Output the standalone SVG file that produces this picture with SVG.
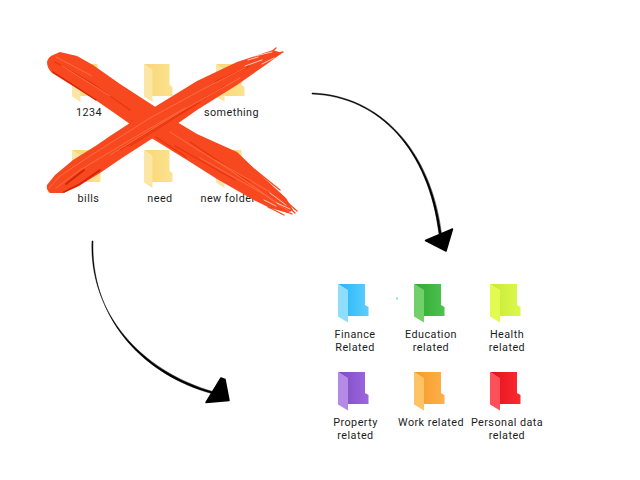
<svg xmlns="http://www.w3.org/2000/svg" xmlns:xlink="http://www.w3.org/1999/xlink" width="640" height="480" viewBox="0 0 640 480">
  <style>
    text { font-family: Roboto, "Liberation Sans", sans-serif; font-size: 10.800px; letter-spacing: 0.450px; fill: #1c1c1c; text-anchor: middle; }
    .link { fill: #000; stroke: #000; stroke-width: 0.5; }
    .head { fill: #000; stroke: #000; stroke-width: 1.5; stroke-linejoin: round; }
    .brush { fill: #f8481f; }
    .dark { fill: none; stroke: #e9360f; stroke-linecap: round; }
    .deep { fill: none; stroke: #d42407; stroke-linecap: round; }
    .light { fill: none; stroke: #fd6c42; stroke-linecap: round; stroke-width: 1; }
    .fray { fill: none; stroke: #f8481f; stroke-width: 1.3; stroke-linecap: round; }
    .gap { fill: none; stroke: #fff; stroke-width: 0.7; stroke-linecap: round; }
  </style>
  <defs>
    <linearGradient id="yBack" x1="0" x2="1"><stop offset="0" stop-color="#f8d677"/><stop offset="1" stop-color="#fce28f"/></linearGradient>
    <linearGradient id="bBack" x1="0" x2="1"><stop offset="0" stop-color="#1fb6fb"/><stop offset="1" stop-color="#5fcdfb"/></linearGradient>
    <linearGradient id="gBack" x1="0" x2="1"><stop offset="0" stop-color="#2fa934"/><stop offset="1" stop-color="#4fc24f"/></linearGradient>
    <linearGradient id="lBack" x1="0" x2="1"><stop offset="0" stop-color="#c6e83a"/><stop offset="1" stop-color="#dcf94a"/></linearGradient>
    <linearGradient id="pBack" x1="0" x2="1"><stop offset="0" stop-color="#7e4cc4"/><stop offset="1" stop-color="#9d66de"/></linearGradient>
    <linearGradient id="oBack" x1="0" x2="1"><stop offset="0" stop-color="#f79a28"/><stop offset="1" stop-color="#fdb04a"/></linearGradient>
    <linearGradient id="rBack" x1="0" x2="1"><stop offset="0" stop-color="#e4101c"/><stop offset="1" stop-color="#fb2a30"/></linearGradient>
    <path id="back" d="M0 0H27V21L30.500 23V32H9V6Z"/>
    <path id="flap" d="M0 0L10 6V38.500L0 32.500Z"/>
    <path id="yback" d="M0 0H25.500V21L28.500 23V32H8V6Z"/>
    <path id="yflap" d="M0 0L8.500 6V38L0 32.500Z"/>
  </defs>

  <g id="folder-1234"><use xlink:href="#yback" x="72" y="64" fill="url(#yBack)"/><use xlink:href="#yflap" x="72" y="64" fill="#fbe6a6"/><text x="89" y="116">1234</text></g>
  <g id="folder-blank"><use xlink:href="#yback" x="144" y="64" fill="url(#yBack)"/><use xlink:href="#yflap" x="144" y="64" fill="#fbe6a6"/></g>
  <g id="folder-something"><use xlink:href="#yback" x="216" y="64" fill="url(#yBack)"/><use xlink:href="#yflap" x="216" y="64" fill="#fbe6a6"/><text x="231.500" y="116">something</text></g>
  <g id="folder-bills"><use xlink:href="#yback" x="72" y="150" fill="url(#yBack)"/><use xlink:href="#yflap" x="72" y="150" fill="#fbe6a6"/><text x="88.500" y="202">bills</text></g>
  <g id="folder-need"><use xlink:href="#yback" x="144" y="150" fill="url(#yBack)"/><use xlink:href="#yflap" x="144" y="150" fill="#fbe6a6"/><text x="160" y="202">need</text></g>
  <g id="folder-new"><use xlink:href="#yback" x="216" y="150" fill="url(#yBack)"/><use xlink:href="#yflap" x="216" y="150" fill="#fbe6a6"/><text x="228" y="202">new folder</text></g>

  <!-- Painted cross over the old folders -->
  <g id="cross">
    <path class="brush" d="M47 62Q48 57 53 55L60 52L77 56L93 65L120 84L157 108L177 122L197 134L237 152L263 177L286 198L293 210L288 213L270 208L252 199L217 179L187 160L153 139L130 124L110 110L97 101L73 86L52 73Q47 68 47 62Z"/>
    <path class="deep" stroke-width="1.400" d="M53 72L73 85L96 100"/>
    <path class="dark" stroke-width="1.400" d="M55 62L90 82L130 110M175 146L235 180M190 142L250 182M132 121L186 157"/>
    <path class="light" d="M56 57L92 76M62 66L110 96M170 132L230 170L280 205M200 158L260 192L290 212M215 160L270 192"/>
    <path class="fray" d="M262 180L297 211M272 192L295 213M255 200L292 214M268 207L284 215M245 162L280 190"/>
    <path class="gap" d="M270 193L286 205M277 203L290 209M264 200L276 206"/>
    <path class="brush" d="M47 185L55 175L73 160L97 145L110 136L153 108L197 81L237 62L273 50L282 53L267 64L237 85L197 110L177 124L153 138L122 158L100 173L77 187L63 193L50 193Q46 190 47 185Z"/>
    <path class="deep" stroke-width="1.800" d="M64 192L80 184L100 170M66 184L84 170"/>
    <path class="dark" stroke-width="1.400" d="M120 150L165 122L225 86M130 146L200 102M215 82L250 66"/>
    <path class="light" d="M49 188L60 176L90 156L150 118L205 88L245 68M56 188L80 170L130 140L185 108M110 155L180 112L240 78"/>
    <path class="fray" d="M243 62L283 52M250 66L280 54M240 72L272 57M258 64L276 48"/>
    <path class="gap" d="M245 66L262 60M255 56L272 52M248 60L258 57M262 64L274 58"/>
  </g>

  <g id="connectors">
    <path class="link" d="M312 93C380 95.500 431 150 441.500 234L439 234C429 151 380 96.500 312 94Z"/>
    <path class="head" d="M425.500 240.500L452.500 229L446 251Z"/>
    <path class="link" d="M92 241C89 312 140 371 214 392L213.500 394C138 373.500 90.500 314 93 241Z"/>
    <path class="head" d="M206 402.500L221 378L225 379.500L229 400.500Z"/>
  </g>

  <rect id="speck" x="396" y="297.500" width="2" height="2" fill="#7fe5e8"/>

  <g id="folder-finance"><use xlink:href="#back" x="338" y="284" fill="url(#bBack)"/><use xlink:href="#flap" x="338" y="284" fill="#8fdcfb"/><text y="337.600"><tspan x="355">Finance</tspan><tspan x="355" dy="13">Related</tspan></text></g>
  <g id="folder-education"><use xlink:href="#back" x="414" y="284" fill="url(#gBack)"/><use xlink:href="#flap" x="414" y="284" fill="#6fd06c"/><text y="337.600"><tspan x="431">Education</tspan><tspan x="431" dy="13">related</tspan></text></g>
  <g id="folder-health"><use xlink:href="#back" x="490" y="284" fill="url(#lBack)"/><use xlink:href="#flap" x="490" y="284" fill="#e2fb50"/><text y="337.600"><tspan x="507">Health</tspan><tspan x="507" dy="13">related</tspan></text></g>
  <g id="folder-property"><use xlink:href="#back" x="338" y="372" fill="url(#pBack)"/><use xlink:href="#flap" x="338" y="372" fill="#b48ae6"/><text y="426"><tspan x="355.500">Property</tspan><tspan x="355.500" dy="13">related</tspan></text></g>
  <g id="folder-work"><use xlink:href="#back" x="414" y="372" fill="url(#oBack)"/><use xlink:href="#flap" x="414" y="372" fill="#fdc465"/><text x="431" y="426">Work related</text></g>
  <g id="folder-personal"><use xlink:href="#back" x="490" y="372" fill="url(#rBack)"/><use xlink:href="#flap" x="490" y="372" fill="#fd5058"/><text y="426"><tspan x="507">Personal data</tspan><tspan x="507" dy="13">related</tspan></text></g>
</svg>
